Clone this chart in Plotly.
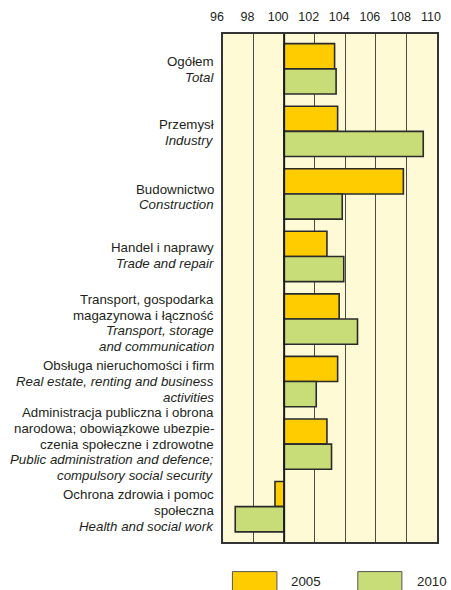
import plotly.graph_objects as go

# ---- data ----
categories = [
    "Ogółem<br><i>Total</i>",
    "Przemysł<br><i>Industry</i>",
    "Budownictwo<br><i>Construction</i>",
    "Handel i naprawy<br><i>Trade and repair</i>",
    "Transport, gospodarka<br>magazynowa i łączność<br><i>Transport, storage</i><br><i>and communication</i>",
    "Obsługa nieruchomości i firm<br><i>Real estate, renting and business</i><br><i>activities</i>",
    "Administracja publiczna i obrona<br>narodowa; obowiązkowe ubezpie-<br>czenia społeczne i zdrowotne<br><i>Public administration and defence;</i><br><i>compulsory social security</i>",
    "Ochrona zdrowia i pomoc<br>społeczna<br><i>Health and social work</i>",
]
series_names = ["2005", "2010"]
values_2005 = [103.3, 103.5, 107.8, 102.8, 103.6, 103.5, 102.8, 99.4]
values_2010 = [103.4, 109.1, 103.8, 103.9, 104.8, 102.1, 103.1, 96.8]
tick_values = [96, 98, 100, 102, 104, 106, 108, 110]
base_value = 100

# ---- style ----
colors = ["#FFCC00", "#C8DC78"]
label_shift = [-1, -1, -3, 1, -4, 0, 0, -4]  # pixel tweak of category label blocks
line_step = 15.8                              # px between label lines
font_family = "Liberation Sans, Arial, sans-serif"
text_color = "#231F20"

positions = list(range(len(categories)))

fig = go.Figure()
for name, vals, col in zip(series_names, [values_2005, values_2010], colors):
    fig.add_trace(go.Bar(
        y=positions,
        x=[v - base_value for v in vals],
        base=base_value,
        orientation="h",
        name=name,
        marker=dict(color=col, line=dict(color="#2B2B2B", width=1.6)),
        showlegend=False,
    ))

# reference line at 100
fig.add_shape(type="line", xref="x", yref="paper", x0=base_value, x1=base_value,
              y0=0, y1=1, line=dict(color="#1A1A1A", width=2), layer="above")

# category labels, one annotation per text line
for i, (lab, sh) in enumerate(zip(categories, label_shift)):
    lines = lab.split("<br>")
    n = len(lines)
    for k, line in enumerate(lines):
        fig.add_annotation(
            xref="paper", yref="y", x=0, y=i, text=line, showarrow=False,
            xanchor="right", yanchor="middle", align="right", xshift=-7,
            yshift=sh + ((n - 1) / 2 - k) * line_step,
            font=dict(family=font_family, size=13.3, color=text_color),
        )

# legend keys drawn manually
legend_x = [(0.044, 0.252, 0.309), (0.630, 0.836, 0.897)]
for (x0, x1, xt), name, col in zip(legend_x, series_names, colors):
    fig.add_shape(type="rect", xref="paper", yref="paper", x0=x0, x1=x1,
                  y0=-0.0583, y1=-0.10, fillcolor=col,
                  line=dict(color="#555555", width=1))
    fig.add_annotation(xref="paper", yref="paper", x=xt, y=-0.0784, text=name,
                       showarrow=False, xanchor="left", yanchor="middle",
                       font=dict(family=font_family, size=13.3, color=text_color))

fig.update_layout(
    width=451, height=590,
    margin=dict(l=222.7, r=10.3, t=28.5, b=47.5),
    paper_bgcolor="white",
    plot_bgcolor="#FFFAD6",
    barmode="group",
    bargap=0.195,
    bargroupgap=0,
    font=dict(family=font_family, color=text_color),
)
fig.update_xaxes(
    side="top", range=[96, 110], tickvals=tick_values,
    ticktext=[str(t) for t in tick_values],
    showgrid=True, gridcolor="#4A4A4A", gridwidth=1,
    showline=True, mirror=True, linecolor="#333333", linewidth=1.5,
    ticks="", ticklabelshift=-6, ticklabelstandoff=6,
    tickfont=dict(size=12.5, family=font_family, color=text_color),
    zeroline=False, fixedrange=True,
)
fig.update_yaxes(
    range=[7.565, -0.557], showticklabels=False, showgrid=False,
    showline=True, mirror=True, linecolor="#333333", linewidth=1.5,
    ticks="", zeroline=False, fixedrange=True,
)

fig.write_html(
    "out.html",
    config={"displayModeBar": False},
    post_script="document.body.style.margin='0';document.body.style.overflow='hidden';",
)
